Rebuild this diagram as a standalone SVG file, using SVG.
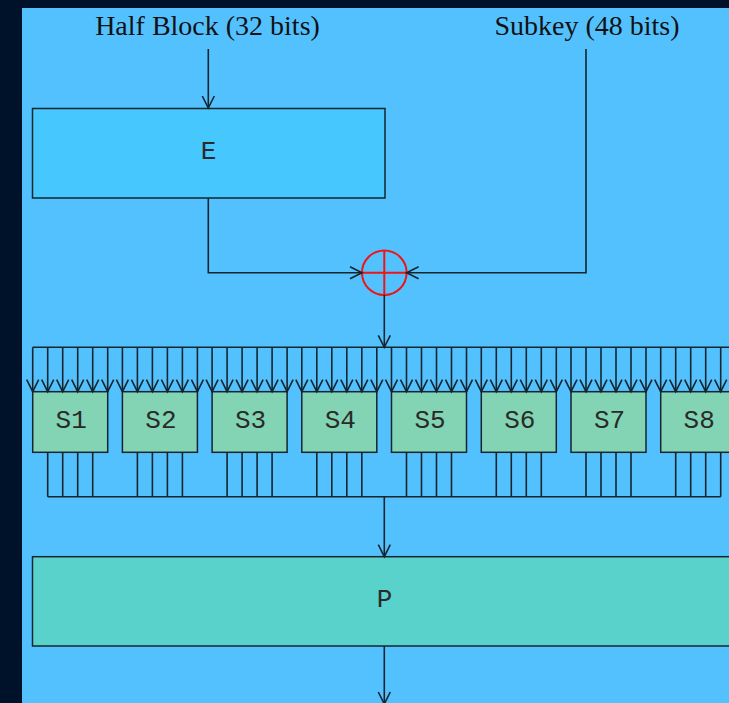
<svg xmlns="http://www.w3.org/2000/svg" width="729" height="703" viewBox="0 0 729 703">
<style>
.ln{fill:none;stroke:#15252e;stroke-width:1.6}
.box{stroke:#15252e;stroke-width:1.5}
.lbl{font-family:"Liberation Serif","Times New Roman",serif;font-size:28px;fill:#111;text-anchor:middle}
.mono{font-family:"Liberation Mono","Courier New",monospace;font-size:26px;fill:#2a2a2a;text-anchor:middle}
.sbox{fill:#82D4B4}
</style>
<defs>
<marker id="ah" markerUnits="userSpaceOnUse" viewBox="-14 -8 16 16" refX="0" refY="0" markerWidth="16" markerHeight="16" orient="auto" overflow="visible">
<path d="M-12,-6 L0,0 L-12,6" fill="none" stroke="#15252e" stroke-width="1.6"/>
</marker>
</defs>
<rect x="0" y="0" width="729" height="703" fill="#00122A"/>
<rect x="22" y="8" width="707" height="695" fill="#54C1FF"/>

<g id="label-half">
<text class="lbl" x="207.5" y="35">Half Block (32 bits)</text>
</g>
<g id="label-subkey">
<text class="lbl" x="587" y="35">Subkey (48 bits)</text>
</g>

<g id="E">
<rect class="box" x="32.5" y="108.5" width="352.5" height="89.5" fill="#46C8FE"/>
<text class="mono" x="208.5" y="158.5">E</text>
</g>

<g id="xor">
<circle cx="384.3" cy="272.7" r="22.3" fill="none" stroke="#F01414" stroke-width="2"/>
<path d="M362,272.7 H406.6 M384.3,250.4 V295" stroke="#F01414" stroke-width="2"/>
</g>

<g id="S1"><rect class="box sbox" x="32.7" y="391.7" width="75" height="60.6"/><text class="mono" x="71.2" y="428">S1</text></g>
<g id="S2"><rect class="box sbox" x="122.4" y="391.7" width="75" height="60.6"/><text class="mono" x="160.9" y="428">S2</text></g>
<g id="S3"><rect class="box sbox" x="212.1" y="391.7" width="75" height="60.6"/><text class="mono" x="250.6" y="428">S3</text></g>
<g id="S4"><rect class="box sbox" x="301.8" y="391.7" width="75" height="60.6"/><text class="mono" x="340.3" y="428">S4</text></g>
<g id="S5"><rect class="box sbox" x="391.5" y="391.7" width="75" height="60.6"/><text class="mono" x="430" y="428">S5</text></g>
<g id="S6"><rect class="box sbox" x="481.3" y="391.7" width="75" height="60.6"/><text class="mono" x="519.8" y="428">S6</text></g>
<g id="S7"><rect class="box sbox" x="571" y="391.7" width="75" height="60.6"/><text class="mono" x="609.5" y="428">S7</text></g>
<g id="S8"><rect class="box sbox" x="660.7" y="391.7" width="75" height="60.6"/><text class="mono" x="699.2" y="428">S8</text></g>

<g id="P">
<rect class="box" x="32.5" y="556.7" width="710" height="89.3" fill="#5AD2CC"/>
<text class="mono" x="384.5" y="607">P</text>
</g>

<g id="connectors">
<path class="ln" d="M208.3,49 V108" marker-end="url(#ah)"/>
<path class="ln" d="M208.3,198.3 V272.7 H362" marker-end="url(#ah)"/>
<path class="ln" d="M586,49 V272.7 H406.6" marker-end="url(#ah)"/>
<path class="ln" d="M384.3,295 V347.3" marker-end="url(#ah)"/>
<path class="ln" d="M32.7,347.3 H729"/>
<g id="inputs">
<path class="ln" d="M32.7,347.3 V391.7" marker-end="url(#ah)"/>
<path class="ln" d="M47.7,347.3 V391.7" marker-end="url(#ah)"/>
<path class="ln" d="M62.7,347.3 V391.7" marker-end="url(#ah)"/>
<path class="ln" d="M77.7,347.3 V391.7" marker-end="url(#ah)"/>
<path class="ln" d="M92.7,347.3 V391.7" marker-end="url(#ah)"/>
<path class="ln" d="M107.7,347.3 V391.7" marker-end="url(#ah)"/>
<path class="ln" d="M122.4,347.3 V391.7" marker-end="url(#ah)"/>
<path class="ln" d="M137.4,347.3 V391.7" marker-end="url(#ah)"/>
<path class="ln" d="M152.4,347.3 V391.7" marker-end="url(#ah)"/>
<path class="ln" d="M167.4,347.3 V391.7" marker-end="url(#ah)"/>
<path class="ln" d="M182.4,347.3 V391.7" marker-end="url(#ah)"/>
<path class="ln" d="M197.4,347.3 V391.7" marker-end="url(#ah)"/>
<path class="ln" d="M212.1,347.3 V391.7" marker-end="url(#ah)"/>
<path class="ln" d="M227.1,347.3 V391.7" marker-end="url(#ah)"/>
<path class="ln" d="M242.1,347.3 V391.7" marker-end="url(#ah)"/>
<path class="ln" d="M257.1,347.3 V391.7" marker-end="url(#ah)"/>
<path class="ln" d="M272.1,347.3 V391.7" marker-end="url(#ah)"/>
<path class="ln" d="M287.1,347.3 V391.7" marker-end="url(#ah)"/>
<path class="ln" d="M301.8,347.3 V391.7" marker-end="url(#ah)"/>
<path class="ln" d="M316.8,347.3 V391.7" marker-end="url(#ah)"/>
<path class="ln" d="M331.8,347.3 V391.7" marker-end="url(#ah)"/>
<path class="ln" d="M346.8,347.3 V391.7" marker-end="url(#ah)"/>
<path class="ln" d="M361.8,347.3 V391.7" marker-end="url(#ah)"/>
<path class="ln" d="M376.8,347.3 V391.7" marker-end="url(#ah)"/>
<path class="ln" d="M391.5,347.3 V391.7" marker-end="url(#ah)"/>
<path class="ln" d="M406.5,347.3 V391.7" marker-end="url(#ah)"/>
<path class="ln" d="M421.5,347.3 V391.7" marker-end="url(#ah)"/>
<path class="ln" d="M436.5,347.3 V391.7" marker-end="url(#ah)"/>
<path class="ln" d="M451.5,347.3 V391.7" marker-end="url(#ah)"/>
<path class="ln" d="M466.5,347.3 V391.7" marker-end="url(#ah)"/>
<path class="ln" d="M481.3,347.3 V391.7" marker-end="url(#ah)"/>
<path class="ln" d="M496.3,347.3 V391.7" marker-end="url(#ah)"/>
<path class="ln" d="M511.3,347.3 V391.7" marker-end="url(#ah)"/>
<path class="ln" d="M526.3,347.3 V391.7" marker-end="url(#ah)"/>
<path class="ln" d="M541.3,347.3 V391.7" marker-end="url(#ah)"/>
<path class="ln" d="M556.3,347.3 V391.7" marker-end="url(#ah)"/>
<path class="ln" d="M571,347.3 V391.7" marker-end="url(#ah)"/>
<path class="ln" d="M586,347.3 V391.7" marker-end="url(#ah)"/>
<path class="ln" d="M601,347.3 V391.7" marker-end="url(#ah)"/>
<path class="ln" d="M616,347.3 V391.7" marker-end="url(#ah)"/>
<path class="ln" d="M631,347.3 V391.7" marker-end="url(#ah)"/>
<path class="ln" d="M646,347.3 V391.7" marker-end="url(#ah)"/>
<path class="ln" d="M660.7,347.3 V391.7" marker-end="url(#ah)"/>
<path class="ln" d="M675.7,347.3 V391.7" marker-end="url(#ah)"/>
<path class="ln" d="M690.7,347.3 V391.7" marker-end="url(#ah)"/>
<path class="ln" d="M705.7,347.3 V391.7" marker-end="url(#ah)"/>
<path class="ln" d="M720.7,347.3 V391.7" marker-end="url(#ah)"/>
<path class="ln" d="M735.7,347.3 V391.7" marker-end="url(#ah)"/>
</g>
<g id="outputs">
<path class="ln" d="M47.7,452.3V496.7M62.7,452.3V496.7M77.7,452.3V496.7M92.7,452.3V496.7"/>
<path class="ln" d="M137.4,452.3V496.7M152.4,452.3V496.7M167.4,452.3V496.7M182.4,452.3V496.7"/>
<path class="ln" d="M227.1,452.3V496.7M242.1,452.3V496.7M257.1,452.3V496.7M272.1,452.3V496.7"/>
<path class="ln" d="M316.8,452.3V496.7M331.8,452.3V496.7M346.8,452.3V496.7M361.8,452.3V496.7"/>
<path class="ln" d="M406.5,452.3V496.7M421.5,452.3V496.7M436.5,452.3V496.7M451.5,452.3V496.7"/>
<path class="ln" d="M496.3,452.3V496.7M511.3,452.3V496.7M526.3,452.3V496.7M541.3,452.3V496.7"/>
<path class="ln" d="M586,452.3V496.7M601,452.3V496.7M616,452.3V496.7M631,452.3V496.7"/>
<path class="ln" d="M675.7,452.3V496.7M690.7,452.3V496.7M705.7,452.3V496.7M720.7,452.3V496.7"/>
<path class="ln" d="M47.7,496.7 H720.7"/>
</g>
<path class="ln" d="M384.3,496.7 V556.7" marker-end="url(#ah)"/>
<path class="ln" d="M384.3,646 V704" marker-end="url(#ah)"/>
</g>
</svg>
